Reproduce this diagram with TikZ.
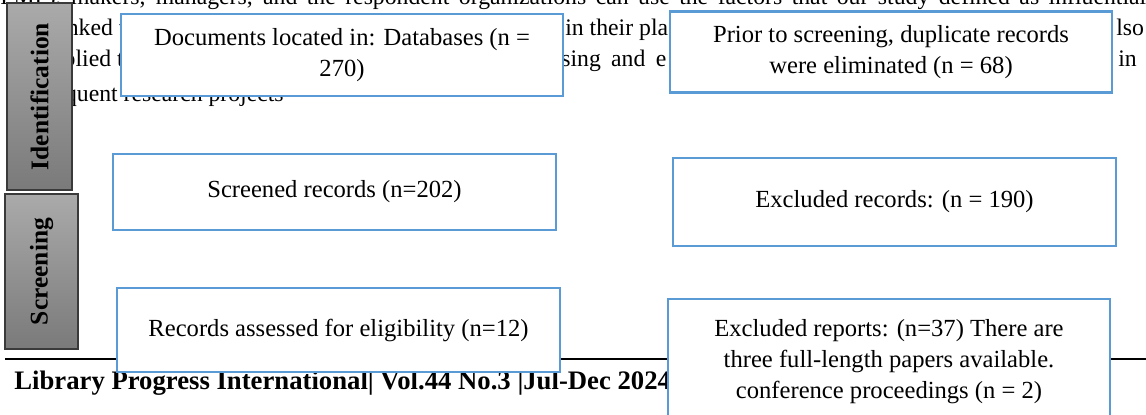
\documentclass[tikz,border=0pt]{standalone}
\usepackage{fontspec}
\setmainfont{Liberation Serif}
\definecolor{boxblue}{HTML}{5B9BD5}
\definecolor{phasetop}{HTML}{AAAAAA}
\definecolor{phasebot}{HTML}{7A7A7A}
\definecolor{phaseline}{HTML}{3A3A3A}

\begin{document}
\begin{tikzpicture}[x=0.02cm, y=-0.02cm,
    pagetext/.style={anchor=base west, inner sep=0pt, font=\fontsize{13.5}{16}\selectfont},
    flowbox/.style={draw=boxblue, line width=1.2pt, fill=white, align=center,
      inner sep=0pt, font=\fontsize{14}{17.5}\selectfont},
    phase/.style={draw=phaseline, line width=0.6pt, top color=phasetop, bottom color=phasebot,
      inner sep=0pt, font=\fontsize{14.5}{18}\selectfont\bfseries}]
  \useasboundingbox (0,0) rectangle (1146,414);
  \clip (0,0) rectangle (1146,414);

  % page text behind the chart
  \node[pagetext] (line1) at (0,4) {\makebox[22.92cm][s]{FMF), makers, managers, and the respondent organizations can use the factors that our study defined as influential}};
  \node[pagetext] (line2a) at (48,35) {ranked t};
  \node[pagetext] (line2b) at (565,35) {in their pla};
  \node[pagetext] (line2c) at (1116,35) {lso};
  \node[pagetext] (line3a) at (41,66) {applied t};
  \node[pagetext] (line3b) at (561,66) {\makebox[2.1cm][s]{sing and e}};
  \node[pagetext] (line3c) at (1118,66) {in};
  \node[pagetext] (line4a) at (12,101) {subsequent research projects};

  % phases
  \node[phase, minimum width=65*0.02cm, minimum height=187*0.02cm] (ident) at (39.5,96.5) {\rotatebox{90}{Identification}};
  \node[phase, minimum width=73*0.02cm, minimum height=155*0.02cm] (screen) at (41.5,271.5) {\rotatebox{90}{Screening}};

  % running foot
  \draw[line width=1.1pt] (5,359) -- (1146,359);
  \node[anchor=base west, inner sep=0pt, font=\fontsize{15.2}{18}\selectfont\bfseries] (foot) at (14,389) {Library Progress International| Vol.44 No.3 |Jul-Dec 2024};

  % chart boxes
  \node[flowbox, minimum width=442*0.02cm, minimum height=82*0.02cm] (docs) at (342,55)
    {Documents located in: Databases (n =\\270)};
  \node[flowbox, minimum width=442*0.02cm, minimum height=81*0.02cm] (dupl) at (891,52)
    {Prior to screening, duplicate records\\were eliminated (n = 68)};
  \node[flowbox, minimum width=443*0.02cm, minimum height=76*0.02cm] (screened) at (334.5,192)
    {Screened records (n=202)};
  \node[flowbox, minimum width=443*0.02cm, minimum height=88*0.02cm] (excl) at (894.5,202)
    {Excluded records: (n = 190)};
  \node[flowbox, minimum width=443*0.02cm, minimum height=84*0.02cm] (assessed) at (338.5,330)
    {Records assessed for eligibility (n=12)};
  \node[flowbox, minimum width=442*0.02cm, minimum height=125*0.02cm] (reports) at (889,361.5)
    {Excluded reports: (n=37) There are\\three full-length papers available.\\conference proceedings (n = 2)};
\end{tikzpicture}
\end{document}
